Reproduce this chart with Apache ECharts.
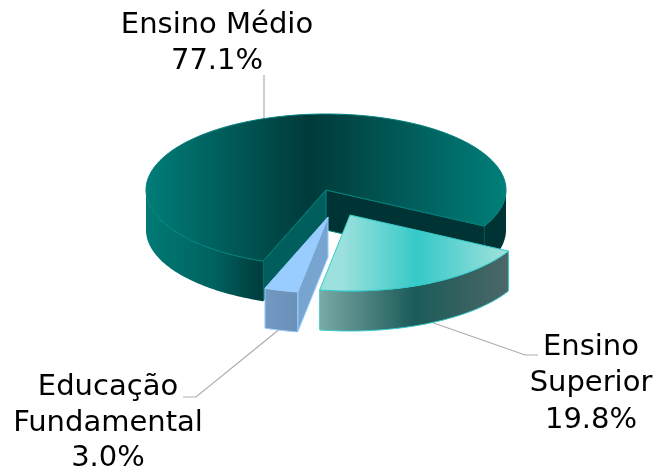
<!DOCTYPE html>
<html>
<head>
<meta charset="utf-8">
<style>html,body{margin:0;padding:0;background:#fff}#c{width:658px;height:469px}</style>
<script src="https://cdn.jsdelivr.net/npm/echarts@6/dist/echarts.min.js"></script>
</head>
<body>
<div id="c"></div>
<script>
// Data (order is clockwise round the pie, starting at Ensino Médio)
const categories = ['Ensino Médio', 'Ensino\nSuperior', 'Educação\nFundamental'];
const shares = [77.1, 19.8, 3.0];

// Projection of the pie
const PIE = { cx: 326, cy: 190, rx: 180, ry: 76, depth: 40, startDeg: 110.5 };
const OFFSETS = [[0, 0], [24, 25], [2, 27]];

// Label and leader layout
const LABELS = [
  { x: 217, y: 7, lineHeight: 36, leader: [[264, 75], [264, 125]] },
  { x: 591, y: 329, lineHeight: 36.5, leader: [[428, 321], [525, 355], [538, 355]] },
  { x: 108, y: 370, lineHeight: 35.5, leader: [[281, 328], [196, 397], [183, 397]] }
];
const FONT = { family: '"DejaVu Sans", Verdana, sans-serif', size: 29 };

// Colours
const g = (...stops) => new echarts.graphic.LinearGradient(0, 0, 1, 0,
  stops.map(([offset, color]) => ({ offset, color })));
const COLORS = [
  { edge: '#00807b',
    top: g([0, '#007d78'], [0.455, '#003a3a'], [1, '#007f7a']),
    wallFront: [g([0, '#007a75'], [0.58, '#00625f'], [1, '#003b3b']), '#003333'],
    cutLeft: '#005f5c', cutRight: '#003333' },
  { edge: '#33cccc',
    top: g([0, '#9ce1dd'], [0.12, '#9ce1dd'], [0.52, '#35c9c7'], [1, '#a2e2dc']),
    wallFront: [g([0, '#7ba9a6'], [0.5, '#1b5b59'], [1, '#4b6867'])],
    cutLeft: null, cutRight: null },
  { edge: '#99ccff',
    top: '#99ccff',
    wallFront: [g([0, '#7398c2'], [1, '#6a90b8'])],
    cutLeft: null, cutRight: '#78a5cf' }
];

const total = shares.reduce((a, b) => a + b, 0);
const pt = (deg, ox, oy, dz) => {
  const t = deg * Math.PI / 180;
  return [PIE.cx + ox + PIE.rx * Math.cos(t), PIE.cy + oy + PIE.ry * Math.sin(t) + dz];
};
const arc = (a, b, ox, oy, dz) => {
  const pts = [], n = Math.max(2, Math.ceil(Math.abs(b - a)));
  for (let i = 0; i <= n; i++) pts.push(pt(a + (b - a) * i / n, ox, oy, dz));
  return pts;
};
const poly = (points, fill, stroke) => ({
  type: 'polygon', shape: { points },
  style: { fill, stroke, lineWidth: 1, lineJoin: 'round' }
});

function renderItem(params, api) {
  const i = params.dataIndex, value = api.value(0), col = COLORS[i], lab = LABELS[i];
  let before = 0;
  for (let k = 0; k < i; k++) before += shares[k];
  const a0 = PIE.startDeg + before / total * 360;
  const a1 = a0 + value / total * 360;
  const [ox, oy] = OFFSETS[i], d = PIE.depth;
  const apex = [PIE.cx + ox, PIE.cy + oy];
  const apexB = [apex[0], apex[1] + d];
  const children = [];

  children.push({ type: 'polyline', shape: { points: lab.leader },
    style: { fill: null, stroke: '#adadad', lineWidth: 1.2 } });

  // cut walls
  if (col.cutRight) children.push(poly([apex, pt(a0, ox, oy, 0), pt(a0, ox, oy, d), apexB], i === 0 ? col.cutLeft : col.cutRight, col.edge));
  if (i === 0) children.push(poly([apex, pt(a1, ox, oy, 0), pt(a1, ox, oy, d), apexB], col.cutRight, col.edge));

  // outer wall: only the near half of the ellipse faces the viewer
  let wall = 0;
  for (let k = 0; k <= 2; k++) {
    const from = Math.max(a0, k * 360), to = Math.min(a1, k * 360 + 180);
    if (to > from) {
      const fill = col.wallFront[Math.min(wall++, col.wallFront.length - 1)];
      children.push(poly(arc(from, to, ox, oy, 0).concat(arc(to, from, ox, oy, d)), fill, i === 0 ? 'none' : col.edge));
    }
  }

  // top face
  children.push(poly([apex].concat(arc(a0, a1, ox, oy, 0)), col.top, col.edge));

  // label
  children.push({ type: 'text', style: {
    text: categories[i] + '\n' + value.toFixed(1) + '%',
    x: lab.x, y: lab.y, align: 'center', verticalAlign: 'top',
    fontFamily: FONT.family, fontSize: FONT.size, lineHeight: lab.lineHeight, fill: '#000'
  } });
  return { type: 'group', children };
}

const chart = echarts.init(document.getElementById('c'), null, { renderer: 'canvas' });
chart.setOption({
  backgroundColor: '#fff',
  animation: false,
  series: [{
    type: 'custom',
    coordinateSystem: 'none',
    silent: true,
    renderItem,
    data: shares.map((v, i) => ({ name: categories[i], value: [v] }))
  }]
});
</script>
</body>
</html>
